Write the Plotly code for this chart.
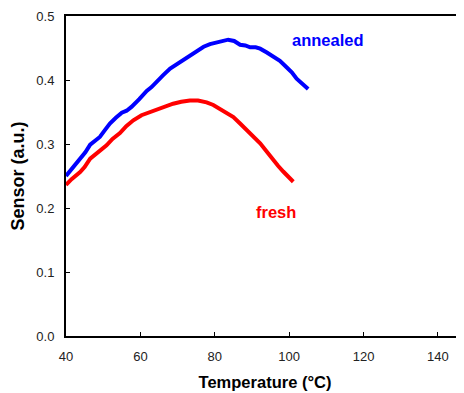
import plotly.graph_objects as go

# annealed sample
annealed_T = [40.0, 41.5, 43.8, 45.2, 46.5, 47.8, 49.1, 50.5, 51.8, 53.4, 55.0, 56.3, 57.6, 59.7, 61.7, 63.0, 64.4, 66.2,
              68.0, 70.5, 72.9, 75.1, 77.0, 78.7, 81.0, 83.6, 85.2, 86.8, 88.2, 89.5, 91.0, 92.2, 94.0, 95.7, 97.5,
              99.3, 100.7, 102.0, 103.6, 105.1]
annealed_S = [0.250, 0.260, 0.277, 0.287, 0.299, 0.305, 0.311, 0.322, 0.332, 0.341, 0.349, 0.352, 0.358, 0.370, 0.383, 0.389,
              0.398, 0.408, 0.418, 0.427, 0.436, 0.445, 0.452, 0.456, 0.459, 0.463, 0.461, 0.455, 0.454, 0.451, 0.451,
              0.449, 0.443, 0.436, 0.430, 0.420, 0.412, 0.402, 0.394, 0.386]

# fresh sample
fresh_T = [40.0, 41.5, 43.8, 45.0, 46.5, 48.5, 50.9, 52.5, 54.5, 56.2, 58.1, 60.3, 62.6, 64.0, 65.3, 67.0, 68.8, 71.0,
           73.3, 75.5, 77.8, 79.6, 81.4, 83.2, 85.0, 86.8, 88.6, 90.4, 92.2, 94.0, 95.7, 97.0, 98.4, 99.8, 101.1]
fresh_S = [0.236, 0.245, 0.256, 0.264, 0.277, 0.286, 0.298, 0.308, 0.317, 0.328, 0.337, 0.345, 0.350, 0.352, 0.356, 0.360,
           0.363, 0.366, 0.368, 0.368, 0.365, 0.361, 0.355, 0.349, 0.342, 0.332, 0.322, 0.312, 0.301, 0.288, 0.275,
           0.266, 0.257, 0.249, 0.241]

x_ticks = [40, 60, 80, 100, 120, 140]
y_ticks = [0.0, 0.1, 0.2, 0.3, 0.4, 0.5]

FONT = "Liberation Sans, Arial"

fig = go.Figure()
fig.add_trace(go.Scatter(x=annealed_T, y=annealed_S, mode="lines", line=dict(color="#0000ff", width=4),
                         showlegend=False, cliponaxis=False))
fig.add_trace(go.Scatter(x=fresh_T, y=fresh_S, mode="lines", line=dict(color="#ff0000", width=4),
                         showlegend=False, cliponaxis=False))

fig.add_annotation(x=110.5, y=0.463, text="<b>annealed</b>", showarrow=False,
                   font=dict(family=FONT, size=16.5, color="#0000ff"))
fig.add_annotation(x=96.5, y=0.194, text="<b>fresh</b>", showarrow=False,
                   font=dict(family=FONT, size=16.5, color="#ff0000"))

fig.update_layout(
    width=456, height=385,
    margin=dict(l=58, r=0, t=7.5, b=56.5),
    paper_bgcolor="white", plot_bgcolor="white",
    font=dict(family=FONT, size=13, color="#222222"),
    xaxis=dict(range=[40, 147], tickvals=x_ticks, ticks="inside", ticklen=4, tickwidth=1, tickcolor="black",
               ticklabelstandoff=7,
               showline=True, linecolor="black", linewidth=2, mirror=True, showgrid=False, zeroline=False,
               title=dict(text="<b>Temperature (°C)</b>", font=dict(size=16.5, color="black"), standoff=14)),
    yaxis=dict(range=[0, 0.5], tickvals=y_ticks, tickformat=".1f", ticks="inside", ticklen=4, tickwidth=1,
               tickcolor="black", ticklabelstandoff=7,
               showline=True, linecolor="black", linewidth=2, showgrid=False, zeroline=False,
               title=dict(text="<b>Sensor (a.u.)</b>", font=dict(size=18, color="black"), standoff=10)),
)

fig.write_html("out.html")
